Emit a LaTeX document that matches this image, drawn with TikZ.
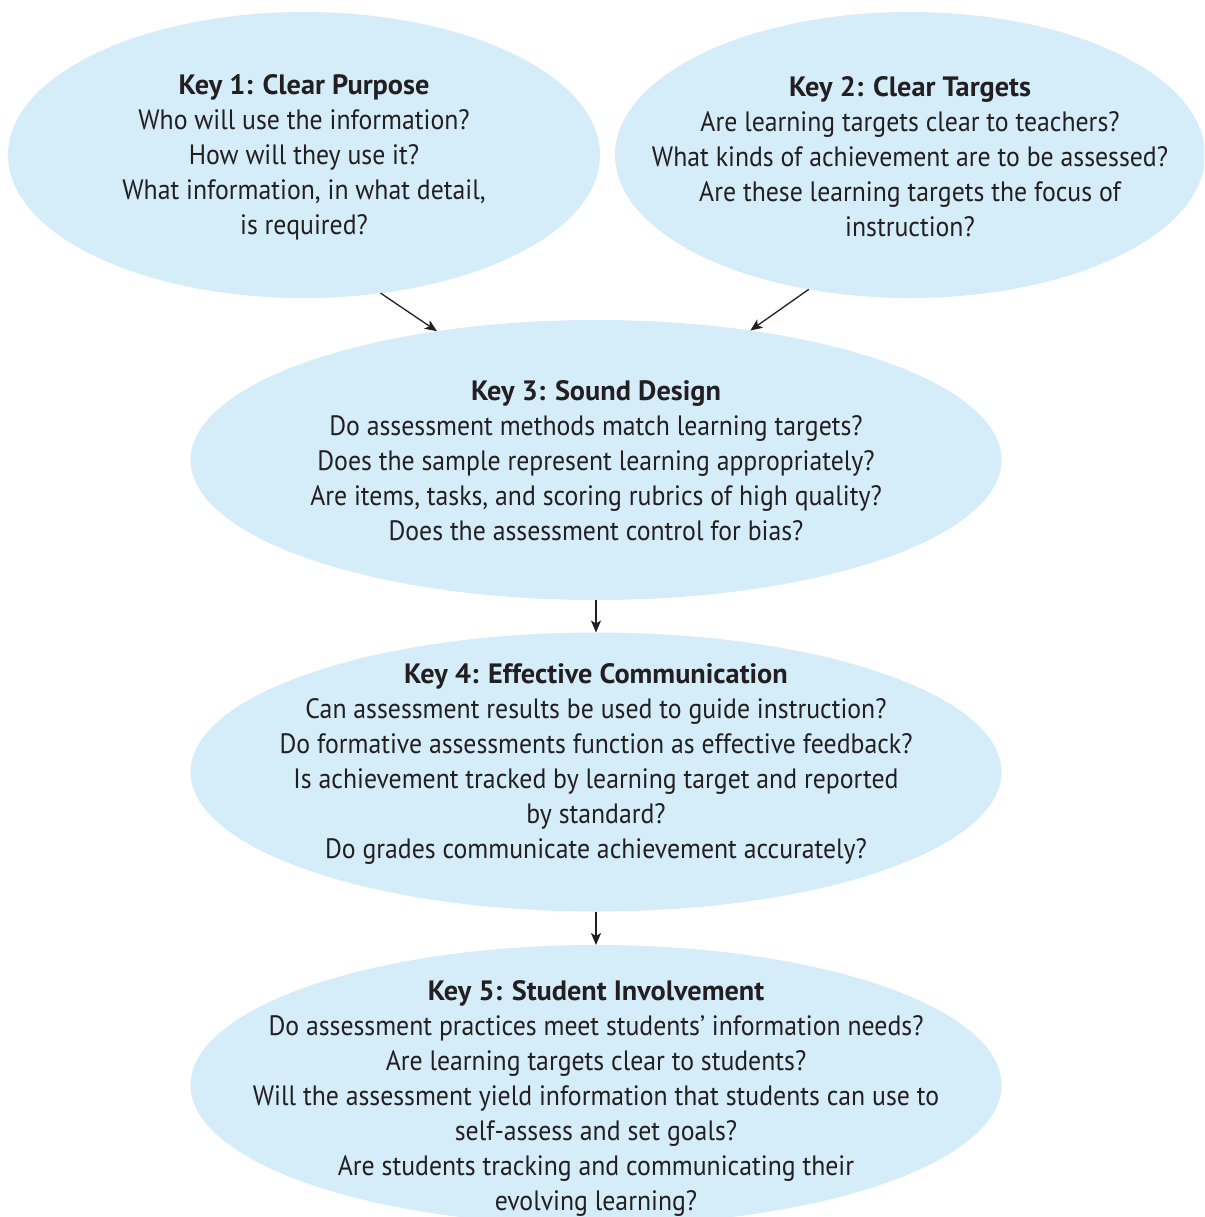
\documentclass[tikz,border=0pt]{standalone}
\usepackage{fontspec}
\setmainfont[FakeStretch=0.92, BoldFeatures={FakeStretch=1.01}]{PT Sans}
\usetikzlibrary{shapes.geometric, positioning, arrows.meta}

\definecolor{keyblue}{HTML}{D5ECF9}
\definecolor{keyink}{HTML}{231F20}

\tikzset{
  keybubble/.style={ellipse, fill=keyblue, inner sep=0pt, outer sep=0pt},
  keytext/.style={align=center, text=keyink, inner sep=0pt,
                  font=\fontsize{28}{35}\selectfont},
  keyarrow/.style={-{Stealth[length=12pt,width=10pt,inset=3pt]}, line width=1.3pt, color=keyink}
}

\begin{document}
\begin{tikzpicture}[x=1pt, y=-1pt, node distance=312pt, on grid]
\useasboundingbox (0,0) rectangle (1204,1217);
\clip (0,0) rectangle (1204,1217);

% the five keys
\node[keybubble, minimum width=592pt, minimum height=286pt] (k1) at (304,155) {};
\node[keybubble, minimum width=590pt, minimum height=286pt] (k2) [right = 606pt of k1] {};
\node[keybubble, minimum width=811pt, minimum height=280pt] (k3) at (596,460) {};
\node[keybubble, minimum width=811pt, minimum height=279pt] (k4) [below = of k3] {};
\node[keybubble, minimum width=811pt, minimum height=280pt] (k5) [below = 313pt of k4] {};

\node[keytext] (t1) at ([yshift=-2pt]k1) {\textbf{Key 1: Clear Purpose}\\
  Who will use the information?\\
  How will they use it?\\
  What information, in what detail,\\
  is required?};
\node[keytext] (t2) at ([yshift=-2pt]k2) {\textbf{Key 2: Clear Targets}\\
  Are learning targets clear to teachers?\\
  What kinds of achievement are to be assessed?\\
  Are these learning targets the focus of\\
  instruction?};
\node[keytext] (t3) at ([yshift=-1pt]k3) {\textbf{Key 3: Sound Design}\\
  Do assessment methods match learning targets?\\
  Does the sample represent learning appropriately?\\
  Are items, tasks, and scoring rubrics of high quality?\\
  Does the assessment control for bias?};
\node[keytext] (t4) at ([yshift=8pt]k4) {\textbf{Key 4: Effective Communication}\\
  Can assessment results be used to guide instruction?\\
  Do formative assessments function as effective feedback?\\
  Is achievement tracked by learning target and reported\\
  by standard?\\
  Do grades communicate achievement accurately?};
\node[keytext] (t5) at ([yshift=-13pt]k5) {\textbf{Key 5: Student Involvement}\\
  Do assessment practices meet students’ information needs?\\
  Are learning targets clear to students?\\
  Will the assessment yield information that students can use to\\
  self-assess and set goals?\\
  Are students tracking and communicating their\\
  evolving learning?};

\path[keyarrow]
    (k1.-61)  edge (k3.141)
    (k2.-127) edge (k3.40)
    (k3.south) edge (k4.north)
    (k4.south) edge (k5.north);
\end{tikzpicture}
\end{document}
